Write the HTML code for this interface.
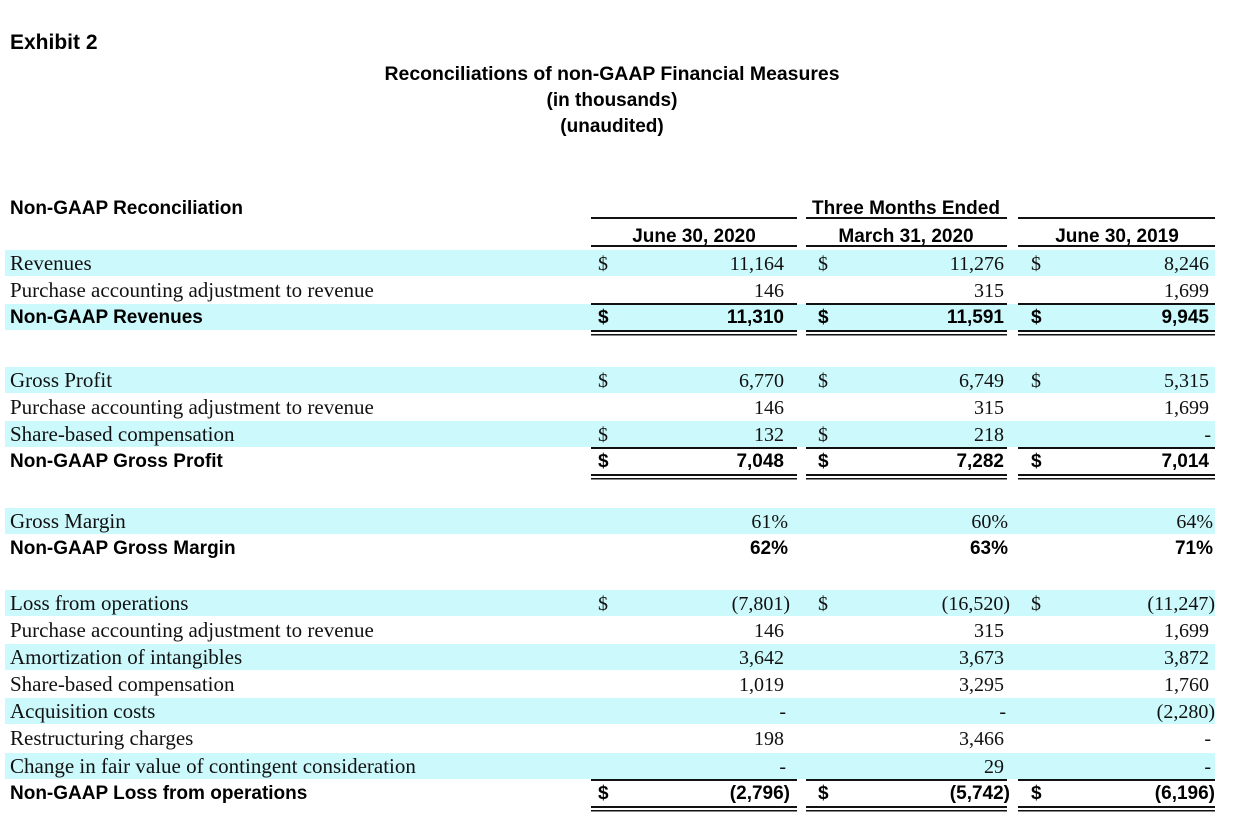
<!DOCTYPE html>
<html><head><meta charset="utf-8"><style>
html,body{margin:0;padding:0;background:#fff;}
svg{display:block}
.s{font-family:"Liberation Serif",serif;font-size:21px;fill:#111}
.n{font-family:"Liberation Serif",serif;font-size:20px;fill:#111}
.b{font-family:"Liberation Sans",sans-serif;font-weight:bold;font-size:19px;fill:#000}
.h{font-family:"Liberation Sans Narrow","Liberation Sans",sans-serif;font-weight:bold;font-size:19px;fill:#000}
</style></head><body>
<svg id="tbl" width="1236" height="826" viewBox="0 0 1236 826" xmlns="http://www.w3.org/2000/svg">
<text class="b" x="10" y="49" style="font-size:21px">Exhibit 2</text>
<text class="h" x="612" y="80" text-anchor="middle" textLength="455" lengthAdjust="spacingAndGlyphs">Reconciliations of non-GAAP Financial Measures</text>
<text class="h" x="612" y="106" text-anchor="middle">(in thousands)</text>
<text class="h" x="612" y="132" text-anchor="middle">(unaudited)</text>
<text class="h" x="10" y="214">Non-GAAP Reconciliation</text>
<text class="h" x="906" y="214" text-anchor="middle">Three Months Ended</text>
<text class="h" x="694" y="242" text-anchor="middle">June 30, 2020</text>
<text class="h" x="906" y="242" text-anchor="middle">March 31, 2020</text>
<text class="h" x="1117" y="242" text-anchor="middle">June 30, 2019</text>
</svg>
<script>
const rowY=[263,290,317,380,407,434,461,521,548,603,630,657,684,711,738,766,793];
const labels=["Revenues","Purchase accounting adjustment to revenue","Non-GAAP Revenues","Gross Profit","Purchase accounting adjustment to revenue","Share-based compensation","Non-GAAP Gross Profit","Gross Margin","Non-GAAP Gross Margin","Loss from operations","Purchase accounting adjustment to revenue","Amortization of intangibles","Share-based compensation","Acquisition costs","Restructuring charges","Change in fair value of contingent consideration","Non-GAAP Loss from operations"];
const bold=[0,0,1,0,0,0,1,0,1,0,0,0,0,0,0,0,1];
const shaded=[1,0,1,1,0,1,0,1,0,1,0,1,0,1,0,1,0];
const colJun2020=["11,164","146","11,310","6,770","146","132","7,048","61%","62%","(7,801)","146","3,642","1,019","-","198","-","(2,796)"];
const colMar2020=["11,276","315","11,591","6,749","315","218","7,282","60%","63%","(16,520)","315","3,673","3,295","-","3,466","29","(5,742)"];
const colJun2019=["8,246","1,699","9,945","5,315","1,699","-","7,014","64%","71%","(11,247)","1,699","3,872","1,760","(2,280)","-","-","(6,196)"];
const dollars=[[1,1,1],[0,0,0],[1,1,1],[1,1,1],[0,0,0],[1,1,0],[1,1,1],[0,0,0],[0,0,0],[1,1,1],[0,0,0],[0,0,0],[0,0,0],[0,0,0],[0,0,0],[0,0,0],[1,1,1]];
const lineAfter=[0,1,2,0,0,1,2,0,0,0,0,0,0,0,0,1,2];
const cols=[{l:591,r:797,d:598,n:784},{l:806,r:1007,d:818,n:1004},{l:1018,r:1215,d:1031,n:1209}];
const svg=document.getElementById('tbl');
const NS='http://www.w3.org/2000/svg';
function mk(tag,attrs){const e=document.createElementNS(NS,tag);for(const k in attrs)e.setAttribute(k,attrs[k]);return e;}
const first=svg.firstChild;
cols.forEach((c,i)=>{
  const l1=mk('rect',{x:c.l,y:217,width:c.r-c.l,height:2,fill:'#111'});
  
  
  svg.appendChild(l1);
  const l2=mk('rect',{x:c.l,y:245,width:c.r-c.l,height:2,fill:'#111'});
  
  
  svg.appendChild(l2);
});
const colsData=[colJun2020,colMar2020,colJun2019];
rowY.forEach((y,i)=>{
  if(shaded[i]){
    const r=mk('rect',{x:5,y:y-13,width:1210,height:26,fill:'#ccf9fc'});
    
    
    svg.insertBefore(r,first);
  }
  const t=mk('text',{x:10,y:y+(bold[i]?6:7),class:bold[i]?'b':'s'});
  t.textContent=labels[i];
  
  
  svg.appendChild(t);
  cols.forEach((c,j)=>{
    if(dollars[i][j]){
      const d=mk('text',{x:c.d,y:y+(bold[i]?6:7),class:bold[i]?'b':'n'});
      d.textContent='$';
      
      
      svg.appendChild(d);
    }
    const v=colsData[j][i];
    let x=c.n;
    if(v.startsWith('(')) x+=6;
    else if(v.endsWith('%')) x+=4;
    else if(v==='-') x+=2;
    const n=mk('text',{x:x,y:y+(bold[i]?6:7),'text-anchor':'end',class:bold[i]?'b':'n'});
    n.textContent=v;
    
    
    svg.appendChild(n);
    if(lineAfter[i]>=1){
      const a=mk('rect',{x:c.l,y:y+13,width:c.r-c.l,height:2,fill:'#111'});
      
      
      svg.appendChild(a);
    }
    if(lineAfter[i]===2){
      const b=mk('rect',{x:c.l,y:y+17,width:c.r-c.l,height:1.5,fill:'#111'});
      
      
      svg.appendChild(b);
    }
  });
});
</script>
</body></html>
